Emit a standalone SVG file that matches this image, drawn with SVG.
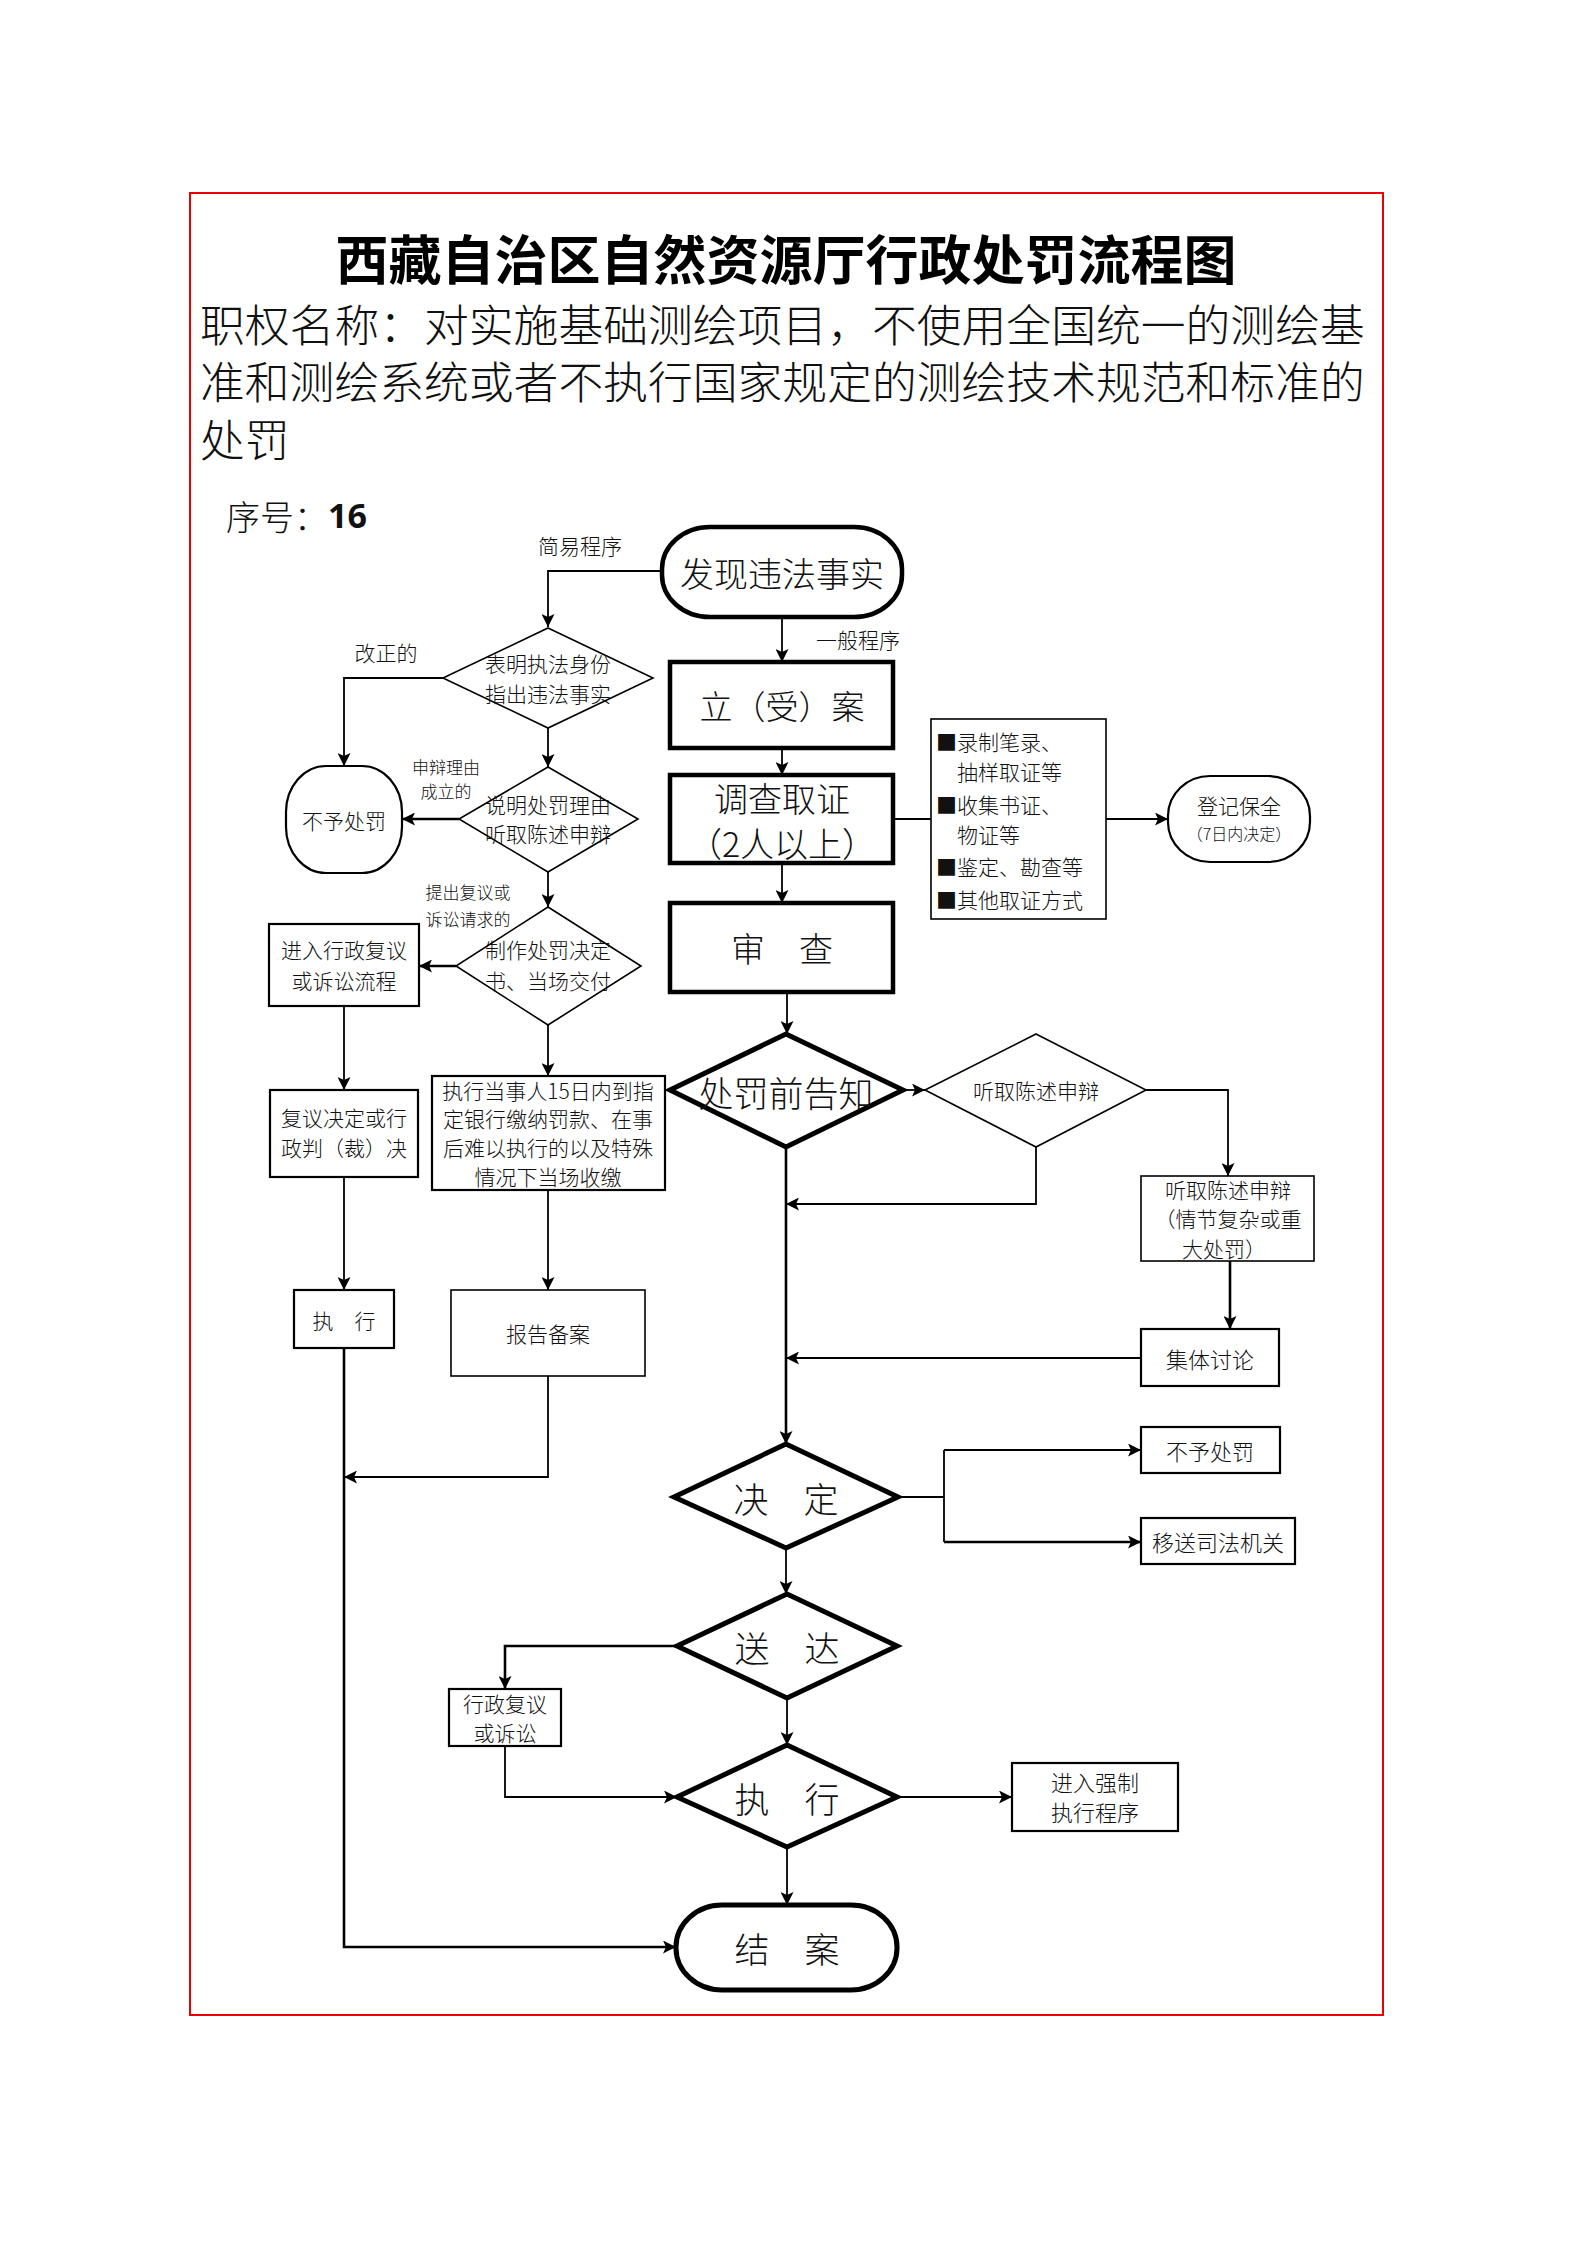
<svg xmlns="http://www.w3.org/2000/svg" width="1587" height="2245" viewBox="0 0 1587 2245">
<style>
text{font-family:"Noto Sans CJK SC","Noto Sans",sans-serif;fill:#111;font-weight:300;dominant-baseline:central;text-anchor:middle}
.t21{font-size:21px}.t22{font-size:22px}.t17{font-size:17px}.t16{font-size:16px}.t34{font-size:34px}.t35{font-size:35px}
.thick{fill:#fff;stroke:#000;stroke-width:4.5}
.thin{fill:#fff;stroke:#000;stroke-width:1.6}
.mid{fill:#fff;stroke:#000;stroke-width:2.2}
.c{fill:none;stroke:#000;stroke-width:1.8}
.cb{fill:none;stroke:#000;stroke-width:2.6}
.st{text-anchor:start}
.sub{font-family:"Liberation Sans","Noto Sans CJK SC",sans-serif;font-size:44.8px}
</style>
<defs>
<marker id="ah" markerWidth="14" markerHeight="13" refX="13" refY="6.5" orient="auto" markerUnits="userSpaceOnUse">
<path d="M0,0 L13,6.5 L0,13 L3,6.5 z" fill="#000"/>
</marker>
</defs>
<rect x="0" y="0" width="1587" height="2245" fill="#fff"/>
<rect x="190" y="193" width="1193" height="1822" fill="none" stroke="#e00" stroke-width="2"/>
<g id="header">
<text x="786" y="257" style="font-size:53px;font-weight:700;fill:#000">西藏自治区自然资源厅行政处罚流程图</text>
<text class="st sub"><tspan x="200" y="326">职权名称：对实施基础测绘项目，不使用全国统一的测绘基</tspan><tspan x="200" y="383">准和测绘系统或者不执行国家规定的测绘技术规范和标准的</tspan><tspan x="200" y="441">处罚</tspan></text>
<text class="st" x="226" y="515" style="font-size:34px">序号：<tspan style="font-weight:700;font-family:'Noto Sans',sans-serif">16</tspan></text>
</g>
<g id="connectors">
<polyline class="c" points="662,571 548,571 548,627" marker-end="url(#ah)"/>
<polyline class="c" points="782,617 782,662" marker-end="url(#ah)"/>
<polyline class="c" points="782,748 782,775" marker-end="url(#ah)"/>
<polyline class="c" points="782,863 782,903" marker-end="url(#ah)"/>
<polyline class="c" points="893,819 931,819"/>
<polyline class="c" points="1106,819 1168,819" marker-end="url(#ah)"/>
<polyline class="c" points="787,992 787,1034" marker-end="url(#ah)"/>
<polyline class="c" points="903,1090 925,1090" marker-end="url(#ah)"/>
<polyline class="c" points="1146,1090 1228,1090 1228,1176" marker-end="url(#ah)"/>
<polyline class="c" points="1036,1147 1036,1204 786,1204" marker-end="url(#ah)"/>
<polyline class="cb" points="1230,1261 1230,1329" marker-end="url(#ah)"/>
<polyline class="c" points="1141,1358 786,1358" marker-end="url(#ah)"/>
<polyline class="cb" points="786,1147 786,1444" marker-end="url(#ah)"/>
<polyline class="c" points="898,1497 944,1497"/>
<polyline class="c" points="944,1450 944,1542"/>
<polyline class="c" points="944,1450 1141,1450" marker-end="url(#ah)"/>
<polyline class="cb" points="944,1542 1141,1542" marker-end="url(#ah)"/>
<polyline class="c" points="786,1548 786,1594" marker-end="url(#ah)"/>
<polyline class="cb" points="677,1646 505,1646 505,1689" marker-end="url(#ah)"/>
<polyline class="c" points="505,1746 505,1797 677,1797" marker-end="url(#ah)"/>
<polyline class="c" points="787,1698 787,1745" marker-end="url(#ah)"/>
<polyline class="c" points="897,1797 1012,1797" marker-end="url(#ah)"/>
<polyline class="c" points="787,1847 787,1905" marker-end="url(#ah)"/>
<polyline class="c" points="443,678 344,678 344,766" marker-end="url(#ah)"/>
<polyline class="c" points="548,728 548,767" marker-end="url(#ah)"/>
<polyline class="cb" points="459,819 402,819" marker-end="url(#ah)"/>
<polyline class="c" points="548,872 548,907" marker-end="url(#ah)"/>
<polyline class="cb" points="456,966 419,966" marker-end="url(#ah)"/>
<polyline class="c" points="548,1025 548,1076" marker-end="url(#ah)"/>
<polyline class="c" points="344,1006 344,1090" marker-end="url(#ah)"/>
<polyline class="c" points="344,1177 344,1290" marker-end="url(#ah)"/>
<polyline class="c" points="548,1190 548,1290" marker-end="url(#ah)"/>
<polyline class="c" points="548,1376 548,1477 344,1477" marker-end="url(#ah)"/>
<polyline class="cb" points="344,1348 344,1947 676,1947" marker-end="url(#ah)"/>
</g>
<g id="labels">
<text class="t21" x="580" y="545">简易程序</text>
<text class="t21" x="858" y="639">一般程序</text>
<text class="t21" x="386" y="652">改正的</text>
<text class="t17" x="446" y="766">申辩理由</text>
<text class="t17" x="446" y="790">成立的</text>
<text class="t17" x="468" y="891">提出复议或</text>
<text class="t17" x="468" y="918">诉讼请求的</text>
</g>
<g id="n-discover"><rect class="thick" x="662" y="527" width="240" height="90" rx="48" ry="42"/><text style="font-size:34px" x="782" y="572">发现违法事实</text></g>
<g id="n-case"><rect class="thick" x="670" y="662" width="223" height="86"/><text style="font-size:33px" x="782" y="705">立（受）案</text></g>
<g id="n-investigate"><rect class="thick" x="670" y="775" width="223" height="88"/><text class="t34" x="782" y="797">调查取证</text><text class="t34" x="782" y="842">（2人以上）</text></g>
<g id="n-review"><rect class="thick" x="670" y="903" width="223" height="89"/><text class="t34" x="782" y="947">审　查</text></g>
<g id="n-evidence"><rect class="thin" x="931" y="719" width="175" height="200"/>
<text class="t21 st" x="936" y="741">■录制笔录、</text>
<text class="t21 st" x="957" y="771">抽样取证等</text>
<text class="t21 st" x="936" y="804">■收集书证、</text>
<text class="t21 st" x="957" y="834">物证等</text>
<text class="t21 st" x="936" y="866">■鉴定、勘查等</text>
<text class="t21 st" x="936" y="899">■其他取证方式</text></g>
<g id="n-preserve"><rect class="mid" x="1168" y="776" width="142" height="86" rx="42" ry="40"/><text class="t21" x="1239" y="805">登记保全</text><text class="t16" x="1239" y="833">（7日内决定）</text></g>
<g id="n-d1"><polygon class="thin" points="548,628 653,678 548,728 443,678"/><text class="t21" x="548" y="663">表明执法身份</text><text class="t21" x="548" y="693">指出违法事实</text></g>
<g id="n-nopunish-l"><rect class="mid" x="286" y="766" width="116" height="107" rx="40" ry="46"/><text class="t21" x="344" y="820">不予处罚</text></g>
<g id="n-d2"><polygon class="thin" points="548,767 638,819 548,872 459,819"/><text class="t21" x="548" y="804">说明处罚理由</text><text class="t21" x="548" y="833">听取陈述申辩</text></g>
<g id="n-d3"><polygon class="thin" points="548,907 641,966 548,1025 456,966"/><text class="t21" x="548" y="949">制作处罚决定</text><text class="t21" x="548" y="980">书、当场交付</text></g>
<g id="n-recon"><rect class="mid" x="269" y="924" width="150" height="82"/><text class="t21" x="344" y="949">进入行政复议</text><text class="t21" x="344" y="980">或诉讼流程</text></g>
<g id="n-recon-dec"><rect class="mid" x="270" y="1090" width="148" height="87"/><text class="t21" x="344" y="1117">复议决定或行</text><text class="t21" x="344" y="1147">政判（裁）决</text></g>
<g id="n-onsite"><rect class="mid" x="432" y="1076" width="233" height="114"/>
<text class="t21" x="548" y="1090">执行当事人15日内到指</text>
<text class="t21" x="548" y="1118">定银行缴纳罚款、在事</text>
<text class="t21" x="548" y="1147">后难以执行的以及特殊</text>
<text class="t21" x="548" y="1176">情况下当场收缴</text></g>
<g id="n-exec-l"><rect class="mid" x="294" y="1290" width="100" height="58"/><text class="t21" x="344" y="1320">执　行</text></g>
<g id="n-report"><rect class="thin" x="451" y="1290" width="194" height="86"/><text class="t21" x="548" y="1333">报告备案</text></g>
<g id="n-notice"><polygon class="thick" points="786,1034 903,1090 786,1147 670,1090" style="stroke-width:5"/><text class="t35" x="786" y="1091">处罚前告知</text></g>
<g id="n-hear-d"><polygon class="thin" points="1036,1034 1146,1090 1036,1147 925,1090"/><text class="t21" x="1036" y="1090">听取陈述申辩</text></g>
<g id="n-hear-box"><rect class="thin" x="1141" y="1176" width="173" height="85"/><text class="t21" x="1228" y="1189">听取陈述申辩</text><text class="t21" x="1228" y="1218">（情节复杂或重</text><text class="t21" x="1224" y="1248">大处罚）</text></g>
<g id="n-discuss"><rect class="mid" x="1141" y="1329" width="138" height="57"/><text class="t22" x="1210" y="1358">集体讨论</text></g>
<g id="n-decide"><polygon class="thick" points="786,1444 898,1497 786,1548 674,1497" style="stroke-width:5"/><text class="t35" x="786" y="1497">决　定</text></g>
<g id="n-nopunish-r"><rect class="mid" x="1141" y="1427" width="139" height="46"/><text class="t22" x="1210" y="1450">不予处罚</text></g>
<g id="n-transfer"><rect class="mid" x="1141" y="1518" width="154" height="46"/><text class="t22" x="1218" y="1541">移送司法机关</text></g>
<g id="n-deliver"><polygon class="thick" points="787,1594 897,1646 787,1698 677,1646" style="stroke-width:5"/><text class="t35" x="787" y="1646">送　达</text></g>
<g id="n-recon2"><rect class="mid" x="449" y="1689" width="112" height="57"/><text class="t21" x="505" y="1703">行政复议</text><text class="t21" x="505" y="1732">或诉讼</text></g>
<g id="n-exec"><polygon class="thick" points="787,1745 897,1797 787,1847 677,1797" style="stroke-width:5"/><text class="t35" x="787" y="1797">执　行</text></g>
<g id="n-force"><rect class="mid" x="1012" y="1763" width="166" height="68"/><text class="t22" x="1095" y="1781">进入强制</text><text class="t22" x="1095" y="1811">执行程序</text></g>
<g id="n-close"><rect class="thick" x="676" y="1905" width="221" height="85" rx="46" ry="42" style="stroke-width:5"/><text class="t35" x="787" y="1947">结　案</text></g>
</svg>
